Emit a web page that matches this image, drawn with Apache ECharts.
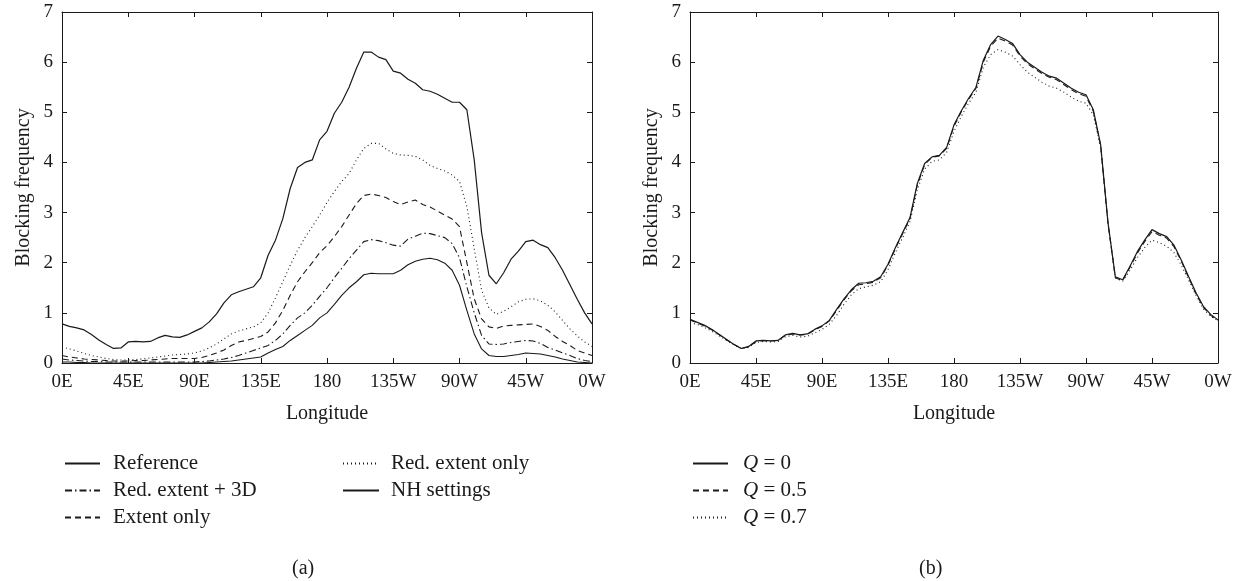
<!DOCTYPE html>
<html>
<head>
<meta charset="utf-8">
<script src="https://cdn.jsdelivr.net/npm/echarts@6/dist/echarts.min.js"></script>
<style>
html,body{margin:0;padding:0;background:#fff;}
#chart{width:1242px;height:581px;}
</style>
</head>
<body>
<div id="chart"></div>
<script>
// Longitude grid (degrees east from 0E, 0..360)
const lon = [0,5,10,15,20,25,30,35,40,45,50,55,60,65,70,75,80,85,90,95,100,105,110,115,120,125,130,135,140,145,150,155,160,165,170,175,180,185,190,195,200,205,210,215,220,225,230,235,240,245,250,255,260,265,270,275,280,285,290,295,300,305,310,315,320,325,330,335,340,345,350,355,360];
const xTickLabels = ['0E','45E','90E','135E','180','135W','90W','45W','0W'];

// Panel (a)
const reference = [0.78,0.73,0.70,0.66,0.57,0.46,0.37,0.29,0.30,0.42,0.43,0.42,0.43,0.50,0.55,0.52,0.51,0.56,0.63,0.70,0.82,0.98,1.20,1.36,1.42,1.47,1.52,1.70,2.15,2.45,2.88,3.48,3.90,4.00,4.05,4.45,4.62,4.98,5.20,5.50,5.88,6.20,6.20,6.10,6.05,5.82,5.78,5.66,5.58,5.45,5.42,5.36,5.28,5.20,5.20,5.05,4.05,2.60,1.75,1.58,1.80,2.07,2.23,2.42,2.45,2.36,2.30,2.10,1.85,1.56,1.27,1.00,0.78];
const redExtentOnly = [0.32,0.28,0.24,0.19,0.15,0.12,0.09,0.07,0.06,0.06,0.07,0.08,0.10,0.12,0.14,0.16,0.17,0.18,0.20,0.24,0.30,0.38,0.48,0.58,0.64,0.68,0.72,0.80,1.00,1.30,1.62,1.95,2.25,2.50,2.72,2.95,3.20,3.42,3.62,3.78,4.05,4.28,4.38,4.38,4.27,4.18,4.15,4.14,4.12,4.05,3.94,3.88,3.83,3.75,3.62,3.12,2.28,1.45,1.10,0.97,1.03,1.12,1.22,1.27,1.28,1.24,1.15,1.02,0.85,0.68,0.54,0.42,0.33];
const extentOnly = [0.15,0.12,0.10,0.08,0.07,0.06,0.05,0.04,0.04,0.04,0.05,0.05,0.06,0.07,0.08,0.09,0.09,0.09,0.09,0.11,0.15,0.20,0.26,0.35,0.42,0.45,0.49,0.53,0.62,0.80,1.05,1.35,1.62,1.82,2.00,2.20,2.34,2.52,2.72,2.95,3.18,3.34,3.37,3.34,3.30,3.22,3.16,3.21,3.25,3.16,3.11,3.03,2.95,2.87,2.72,2.00,1.28,0.88,0.72,0.69,0.74,0.75,0.76,0.77,0.78,0.73,0.65,0.53,0.43,0.35,0.25,0.20,0.15];
const redExtent3D = [0.08,0.06,0.05,0.04,0.03,0.03,0.02,0.02,0.02,0.02,0.02,0.02,0.02,0.02,0.02,0.02,0.02,0.02,0.02,0.03,0.04,0.06,0.08,0.11,0.15,0.20,0.25,0.30,0.35,0.45,0.58,0.75,0.90,1.00,1.15,1.33,1.50,1.70,1.89,2.08,2.25,2.42,2.46,2.44,2.40,2.35,2.33,2.47,2.53,2.59,2.58,2.54,2.50,2.38,2.10,1.52,1.00,0.55,0.38,0.37,0.38,0.41,0.43,0.45,0.44,0.39,0.31,0.26,0.20,0.15,0.09,0.05,0.03];
const nhSettings = [0.02,0.02,0.01,0.01,0.00,0.00,0.00,0.00,0.00,0.00,0.00,0.00,0.00,0.00,0.00,0.00,0.00,0.00,0.00,0.00,0.01,0.02,0.03,0.04,0.06,0.08,0.10,0.12,0.20,0.27,0.33,0.45,0.55,0.65,0.75,0.90,1.00,1.17,1.35,1.50,1.62,1.76,1.79,1.78,1.78,1.78,1.85,1.96,2.03,2.07,2.09,2.06,1.99,1.85,1.55,1.05,0.58,0.28,0.15,0.13,0.13,0.15,0.17,0.20,0.19,0.18,0.15,0.12,0.08,0.05,0.02,0.01,0.00];

// Panel (b)
const q0 = [0.87,0.81,0.75,0.67,0.57,0.47,0.37,0.29,0.33,0.44,0.45,0.44,0.45,0.56,0.59,0.56,0.58,0.67,0.74,0.85,1.07,1.28,1.46,1.59,1.60,1.63,1.72,1.97,2.30,2.60,2.90,3.58,3.98,4.11,4.14,4.30,4.75,5.03,5.28,5.50,6.04,6.35,6.52,6.45,6.37,6.15,6.00,5.90,5.80,5.72,5.68,5.58,5.48,5.40,5.35,5.05,4.35,2.80,1.72,1.66,1.93,2.22,2.45,2.66,2.58,2.52,2.35,2.05,1.72,1.40,1.13,0.97,0.86];
const q05 = [0.86,0.80,0.74,0.66,0.56,0.46,0.37,0.29,0.32,0.43,0.45,0.44,0.45,0.55,0.58,0.56,0.57,0.66,0.73,0.84,1.05,1.26,1.44,1.56,1.58,1.61,1.70,1.95,2.28,2.58,2.88,3.55,3.96,4.10,4.13,4.28,4.72,5.01,5.26,5.48,6.00,6.32,6.48,6.42,6.34,6.12,5.97,5.87,5.77,5.70,5.65,5.55,5.45,5.37,5.32,5.02,4.33,2.78,1.70,1.64,1.91,2.19,2.42,2.62,2.55,2.49,2.32,2.03,1.70,1.38,1.11,0.95,0.85];
const q07 = [0.80,0.77,0.71,0.63,0.54,0.45,0.36,0.29,0.31,0.41,0.43,0.42,0.43,0.52,0.55,0.52,0.53,0.60,0.67,0.77,0.95,1.17,1.36,1.48,1.52,1.55,1.62,1.86,2.20,2.50,2.82,3.45,3.87,4.02,4.05,4.20,4.62,4.92,5.18,5.40,5.90,6.15,6.25,6.20,6.12,5.95,5.80,5.70,5.60,5.52,5.48,5.40,5.30,5.22,5.18,4.95,4.30,2.78,1.70,1.63,1.85,2.10,2.30,2.45,2.40,2.33,2.20,1.95,1.65,1.35,1.08,0.93,0.84];

const FONT = '"Liberation Serif", "DejaVu Serif", serif';
const INK = '#1a1a1a';

function pairs(arr){ return lon.map((x,i)=>[x,arr[i]]); }

function axesFor(gridIndex){
  const xs = [
    {gridIndex, type:'value', min:0, max:360, interval:45, position:'bottom',
     name:'Longitude', nameLocation:'middle', nameGap:41,
     nameTextStyle:{fontFamily:FONT, fontSize:20, color:INK},
     axisLine:{show:true, onZero:false, lineStyle:{color:INK, width:1}},
     axisTick:{show:true, inside:true, length:5, lineStyle:{color:INK}},
     axisLabel:{fontFamily:FONT, fontSize:19, color:INK, margin:10,
       formatter:(v)=>xTickLabels[Math.round(v/45)]},
     splitLine:{show:false}},
    {gridIndex, type:'value', min:0, max:360, interval:45, position:'top',
     axisLine:{show:true, onZero:false, lineStyle:{color:INK, width:1}},
     axisTick:{show:true, inside:true, length:5, lineStyle:{color:INK}},
     axisLabel:{show:false}, splitLine:{show:false}}
  ];
  const ys = [
    {gridIndex, type:'value', min:0, max:7, interval:1, position:'left',
     name:'Blocking frequency', nameLocation:'middle', nameGap:28, nameRotate:90,
     nameTextStyle:{fontFamily:FONT, fontSize:20, color:INK},
     axisLine:{show:true, onZero:false, lineStyle:{color:INK, width:1}},
     axisTick:{show:true, inside:true, length:5, lineStyle:{color:INK}},
     axisLabel:{fontFamily:FONT, fontSize:19, color:INK, margin:9},
     splitLine:{show:false}},
    {gridIndex, type:'value', min:0, max:7, interval:1, position:'right',
     axisLine:{show:true, onZero:false, lineStyle:{color:INK, width:1}},
     axisTick:{show:true, inside:true, length:5, lineStyle:{color:INK}},
     axisLabel:{show:false}, splitLine:{show:false}}
  ];
  return {xs, ys};
}

const a = axesFor(0), b = axesFor(1);

function line(name, data, xIdx, yIdx, type, width){
  return {name, type:'line', xAxisIndex:xIdx, yAxisIndex:yIdx, data:pairs(data),
    showSymbol:false, symbol:'none', smooth:false, animation:false,
    lineStyle:{color:INK, width:width, type:type}, itemStyle:{color:INK},
    emphasis:{disabled:true}};
}

const DOT = [1,3], DASH = [6,4], DASHDOT = [7,3,1.5,3];

const noSymbol = {color:'rgba(0,0,0,0)', borderColor:'rgba(0,0,0,0)', borderWidth:0};
function legendText(pad){ return {fontFamily:FONT, fontSize:21, color:INK, padding:[0,0,0,pad]}; }

const option = {
  backgroundColor:'#fff',
  animation:false,
  grid:[
    {left:62, top:12, width:530, height:351, show:false},
    {left:690, top:12, width:528, height:351, show:false}
  ],
  xAxis:[...a.xs, ...b.xs],
  yAxis:[...a.ys, ...b.ys],
  legend:[
    {orient:'vertical', left:59, top:448, itemWidth:35, itemHeight:10, itemGap:6,
     itemStyle:noSymbol,
     data:[{name:'Reference', lineStyle:{width:2}}, 'Red. extent + 3D', 'Extent only'],
     textStyle:legendText(8), selectedMode:false},
    {orient:'vertical', left:337, top:448, itemWidth:36, itemHeight:10, itemGap:6,
     itemStyle:noSymbol,
     data:['Red. extent only', 'NH settings'],
     textStyle:legendText(7), selectedMode:false},
    {orient:'vertical', left:687, top:448, itemWidth:35, itemHeight:10, itemGap:6,
     itemStyle:noSymbol,
     data:['Q = 0', 'Q = 0.5', 'Q = 0.7'],
     formatter:(n)=>'{i|Q}' + n.slice(1),
     textStyle:{fontFamily:FONT, fontSize:21, color:INK, padding:[0,0,0,10],
       rich:{i:{fontFamily:FONT, fontSize:21, fontStyle:'italic', color:INK}}},
     selectedMode:false}
  ],
  title:[
    {text:'(a)', left:287, top:554, textAlign:'left',
     textStyle:{fontFamily:FONT, fontSize:20, fontWeight:'normal', color:INK}},
    {text:'(b)', left:914, top:554, textAlign:'left',
     textStyle:{fontFamily:FONT, fontSize:20, fontWeight:'normal', color:INK}}
  ],
  series:[
    line('Reference', reference, 0, 0, 'solid', 1.2),
    line('Red. extent only', redExtentOnly, 0, 0, DOT, 1.1),
    line('Extent only', extentOnly, 0, 0, DASH, 1.1),
    line('Red. extent + 3D', redExtent3D, 0, 0, DASHDOT, 1.1),
    line('NH settings', nhSettings, 0, 0, 'solid', 1.1),
    line('Q = 0', q0, 2, 2, 'solid', 1.2),
    line('Q = 0.5', q05, 2, 2, DASH, 1.1),
    line('Q = 0.7', q07, 2, 2, DOT, 1.1)
  ]
};

const chart = echarts.init(document.getElementById('chart'), null, {renderer:'canvas'});
chart.setOption(option);
</script>
</body>
</html>
